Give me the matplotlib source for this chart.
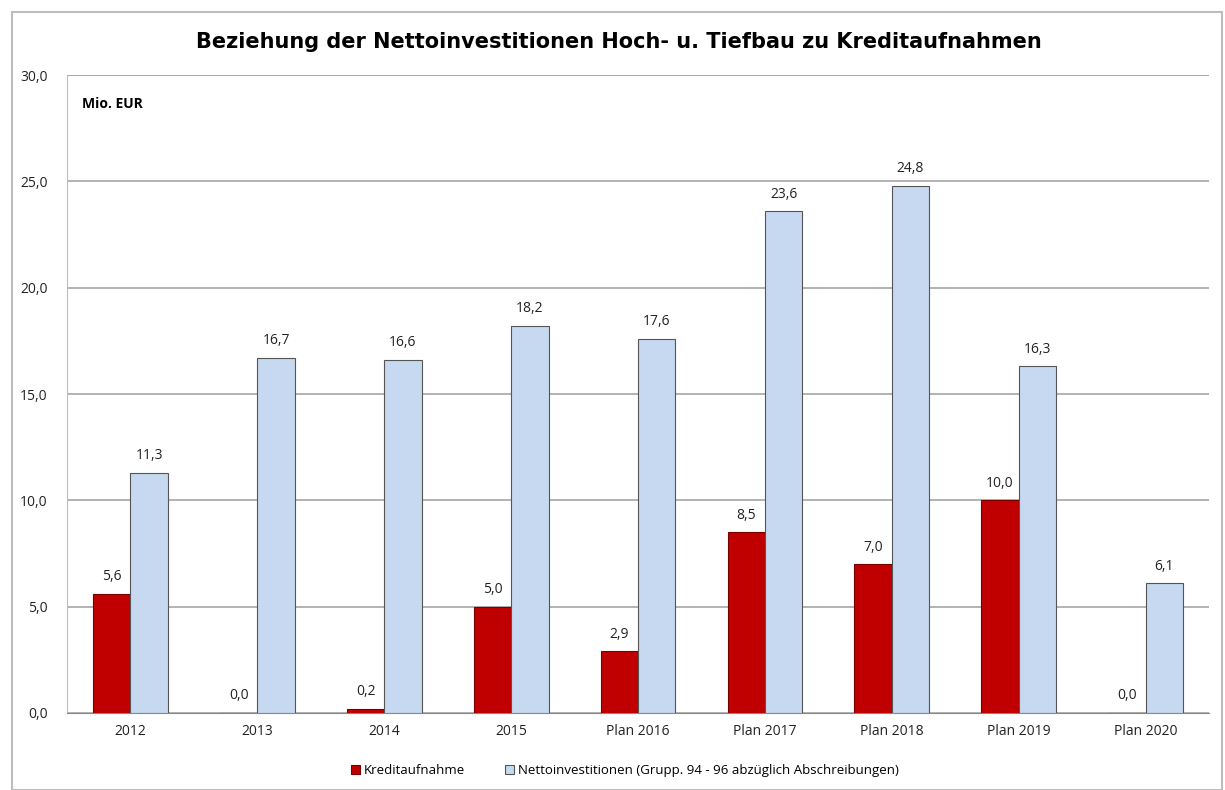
import matplotlib.pyplot as plt
from matplotlib.patches import Rectangle
from matplotlib.ticker import MultipleLocator, FuncFormatter
import numpy as np

categories = ["2012", "2013", "2014", "2015", "Plan 2016", "Plan 2017",
              "Plan 2018", "Plan 2019", "Plan 2020"]
kredit = [5.6, 0.0, 0.2, 5.0, 2.9, 8.5, 7.0, 10.0, 0.0]
netto = [11.3, 16.7, 16.6, 18.2, 17.6, 23.6, 24.8, 16.3, 6.1]

plt.rcParams['font.family'] = ['Open Sans', 'DejaVu Sans']

fig = plt.figure(figsize=(12.25, 7.9), dpi=100)
fig.patches.append(Rectangle((0.0098, 0.0), 0.988, 0.985, transform=fig.transFigure,
                             fill=False, edgecolor="#bdbdbd", linewidth=1.5))
ax = fig.add_axes([0.0547, 0.0975, 0.9323, 0.8075])

x = np.arange(len(categories))
w = 0.295
b1 = ax.bar(x - w / 2, kredit, w, color="#c00000", edgecolor="#7a0000", linewidth=0.8,
            label="Kreditaufnahme", zorder=3)
b2 = ax.bar(x + w / 2, netto, w, color="#c6d9f0", edgecolor="#555555", linewidth=0.8,
            label="Nettoinvestitionen (Grupp. 94 - 96 abzüglich Abschreibungen)", zorder=3)

fmt = lambda v: f"{v:.1f}".replace(".", ",")
for bars, vals in ((b1, kredit), (b2, netto)):
    for bar, v in zip(bars, vals):
        ax.text(bar.get_x() + bar.get_width() / 2, v + 0.45, fmt(v), ha="center",
                va="bottom", fontsize=10, color="#222222")

ax.set_xlim(-0.5, len(categories) - 0.5)
ax.set_ylim(0, 30)
ax.yaxis.set_major_locator(MultipleLocator(5))
ax.yaxis.set_major_formatter(FuncFormatter(lambda v, p: fmt(v)))
ax.set_xticks(x)
ax.set_xticklabels(categories)
ax.tick_params(axis="both", length=0, labelsize=10, colors="#222222")
ax.tick_params(axis="y", pad=14)
ax.tick_params(axis="x", pad=8)
ax.grid(axis="y", color="#a6a6a6", linewidth=1.2, zorder=0)
for s in ("top", "right"):
    ax.spines[s].set_visible(False)
ax.spines["left"].set_color("#bdbdbd")
ax.spines["bottom"].set_color("#888888")
ax.axhline(30, color="#bdbdbd", linewidth=1.5, zorder=1)

ax.text(0.013, 0.965, "Mio. EUR", transform=ax.transAxes, fontsize=10,
        fontweight="bold", va="top", ha="left")

fig.text(0.505, 0.947, "Beziehung der Nettoinvestitionen Hoch- u. Tiefbau zu Kreditaufnahmen",
         ha="center", va="center", fontsize=15, fontweight="bold", family="DejaVu Sans")

fig.legend(loc="center", bbox_to_anchor=(0.51, 0.025), ncol=2, frameon=False,
           fontsize=9.5, handlelength=0.7, handleheight=0.7, columnspacing=3,
           handletextpad=0.3)

fig.savefig("out.png", dpi=100)
